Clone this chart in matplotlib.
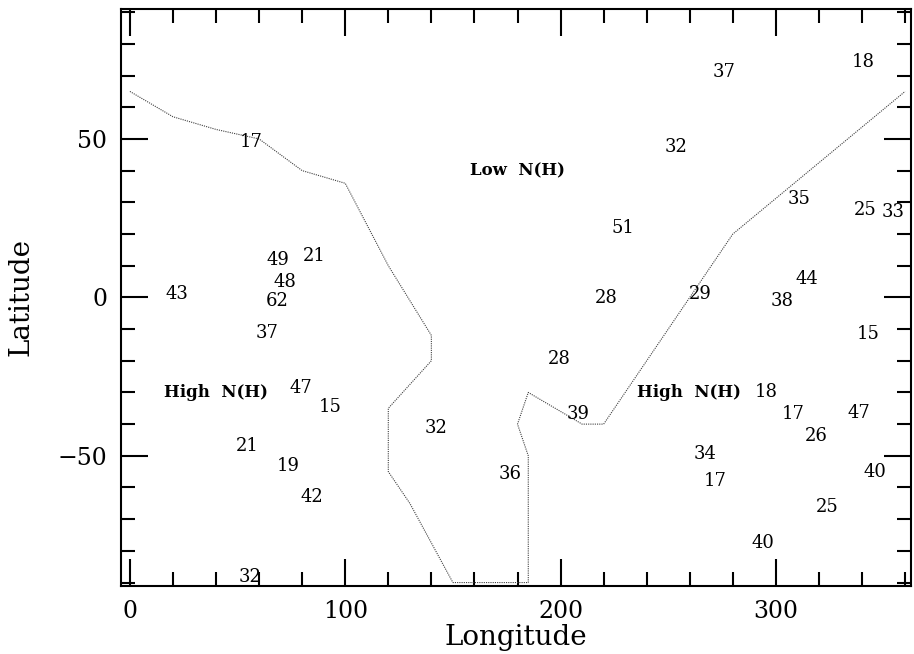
import matplotlib
matplotlib.use("Agg")
import matplotlib.pyplot as plt
from matplotlib.ticker import MultipleLocator

plt.rcParams['font.family'] = 'DejaVu Serif'

# N(H) values written at (longitude, latitude)
nh_values = ["17", "49", "21", "48", "62", "43", "37", "47", "15", "21",
             "19", "42", "32", "32", "36", "28", "39", "18", "17", "47",
             "26", "34", "17", "40", "25", "40", "15", "37", "18", "32",
             "35", "25", "33", "51", "28", "29", "44", "38"]
nh_lon = [56.2, 68.6, 85.5, 72.0, 68.6, 21.7, 63.7, 79.3, 93.2, 54.5,
          73.6, 84.4, 55.8, 142.0, 176.6, 199.5, 208.2, 295.3, 308.0, 338.4,
          318.9, 267.0, 271.8, 346.1, 324.0, 293.8, 343.0, 276.0, 340.7, 253.8,
          310.8, 341.3, 354.5, 229.0, 221.3, 264.7, 314.4, 302.8]
nh_lat = [48.9, 11.7, 13.2, 4.8, -1.3, 1.2, -11.4, -28.5, -34.6, -46.9,
          -53.2, -63.0, -88.4, -41.1, -55.8, -19.6, -36.7, -29.9, -36.9, -36.4,
          -43.7, -49.5, -58.1, -55.0, -66.1, -77.4, -11.5, 71.1, 74.2, 47.6,
          30.9, 27.7, 27.1, 21.9, -0.2, 1.2, 5.9, -1.3]

# region labels
region_text = ["Low  N(H)", "High  N(H)", "High  N(H)"]
region_lon = [180.0, 40.0, 259.7]
region_lat = [39.8, -30.0, -30.0]

# boundary between low and high column density
border_lon = [0, 20, 40, 60, 80, 100, 120, 140, 140, 120, 120, 130, 150,
              185, 185, 180, 185, 210, 220, 280, 360]
border_lat = [65, 57, 53, 50, 40, 36, 10, -12, -20, -35, -55, -65, -90,
              -90, -50, -40, -30, -40, -40, 20, 65]

fig = plt.figure(figsize=(9.14, 6.54), dpi=100)
ax = fig.add_axes([0.1327, 0.1044, 0.8637, 0.8818])

ax.plot(border_lon, border_lat, color='0.25', lw=0.8, linestyle=(0, (1, 1)))

for t, x, y in zip(nh_values, nh_lon, nh_lat):
    ax.text(x, y, t, fontsize=13, ha='center', va='center')
for t, x, y in zip(region_text, region_lon, region_lat):
    ax.text(x, y, t, fontsize=12, fontweight='bold', ha='center', va='center')

ax.set_xlim(-4, 362.6)
ax.set_ylim(-91, 91)
ax.xaxis.set_major_locator(MultipleLocator(100))
ax.xaxis.set_minor_locator(MultipleLocator(20))
ax.yaxis.set_major_locator(MultipleLocator(50))
ax.yaxis.set_minor_locator(MultipleLocator(10))
ax.tick_params(which='both', direction='in', top=True, right=True, width=1.5)
ax.tick_params(which='major', length=19.5)
ax.tick_params(which='minor', length=10)
ax.tick_params(axis='x', labelsize=17, pad=10)
ax.tick_params(axis='y', labelsize=17, pad=10)
for s in ax.spines.values():
    s.set_linewidth(1.5)

ax.set_xlabel("Longitude", fontsize=20, labelpad=1)
ax.set_ylabel("Latitude", fontsize=20, labelpad=17)

fig.savefig("out.png", dpi=100)
